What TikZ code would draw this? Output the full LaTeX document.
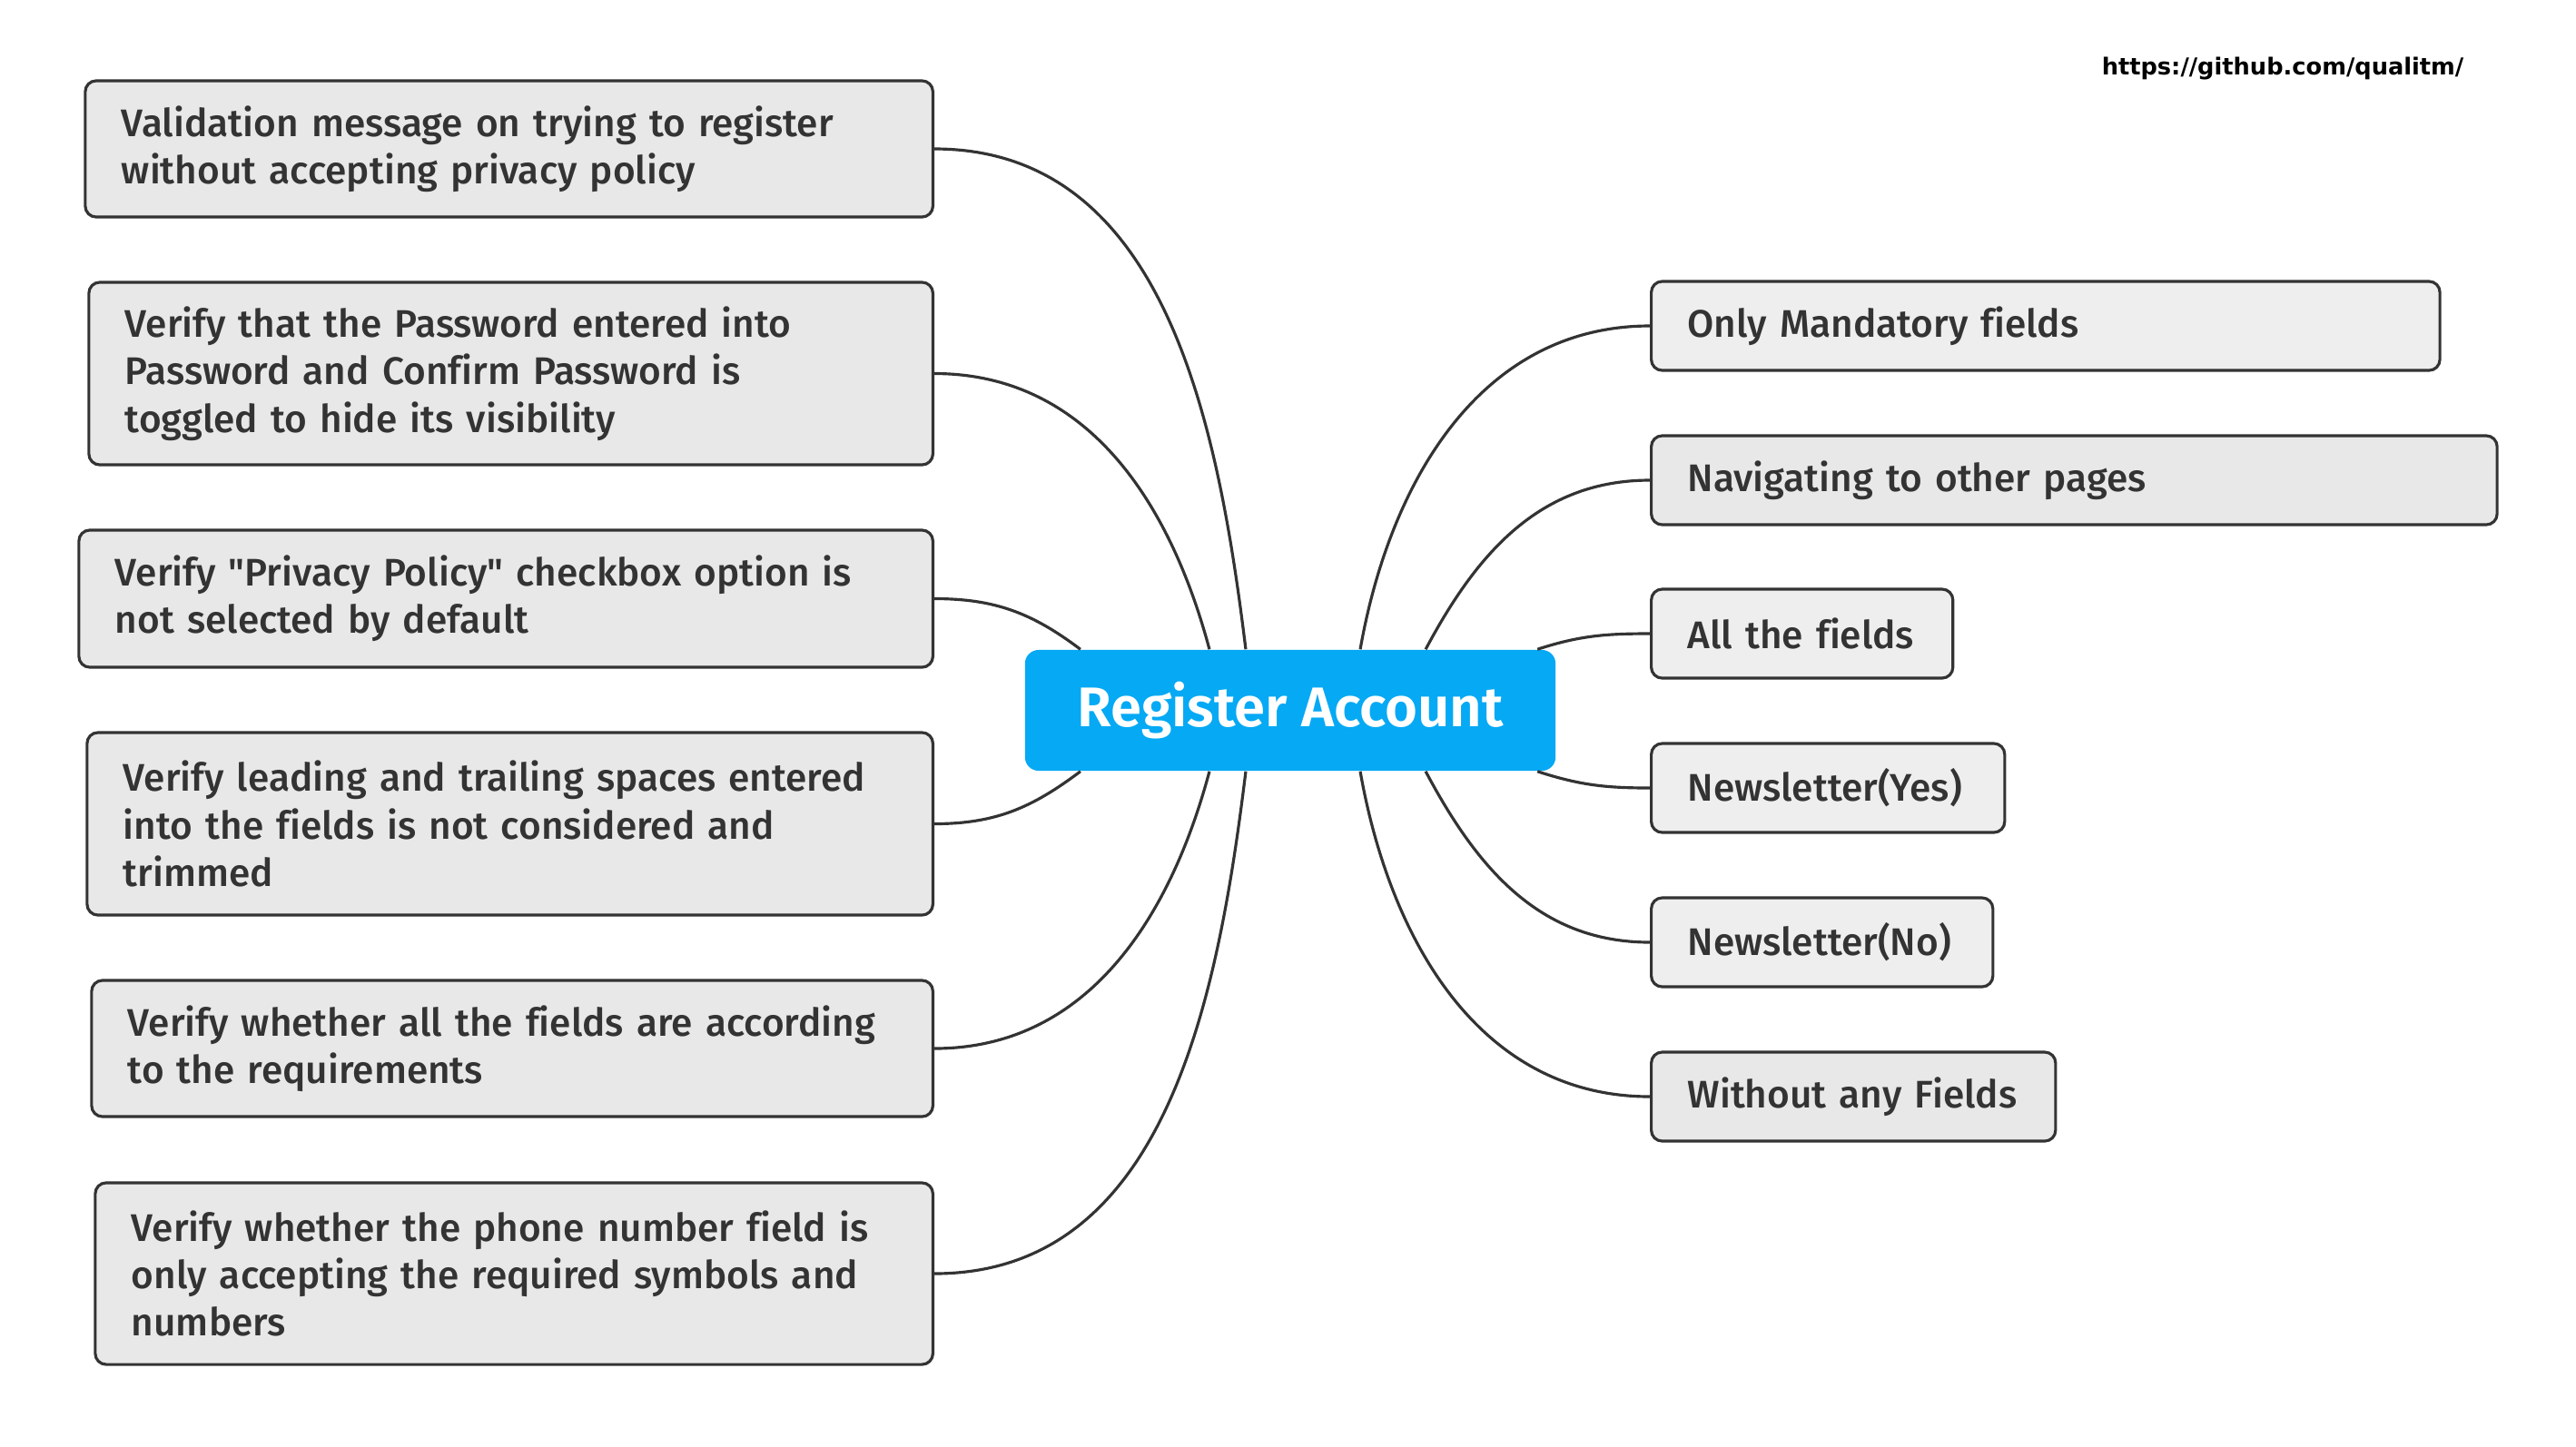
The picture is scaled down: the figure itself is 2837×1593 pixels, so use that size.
\documentclass[tikz,border=0pt]{standalone}
\usepackage{fontspec}
\IfFontExistsTF{Fira Sans Medium}{\setmainfont{Fira Sans Medium}[Ligatures=NoCommon]}{\setmainfont{Fira Sans}[Ligatures=NoCommon]}
\IfFontExistsTF{Fira Sans SemiBold}{\newfontfamily\titlefont{Fira Sans SemiBold}}{\newfontfamily\titlefont{Fira Sans Bold}}
\newfontfamily\urlfont{DejaVu Sans Bold}
\usetikzlibrary{positioning}
\hyphenpenalty=10000\relax

\definecolor{linegray}{RGB}{51,51,51}
\definecolor{boxgray}{RGB}{232,232,232}
\definecolor{boxlight}{RGB}{238,238,238}
\definecolor{rootblue}{RGB}{6,169,244}

\begin{document}
\begin{tikzpicture}[
    x=0.01cm, y=0.01cm,
    topic/.style={draw=linegray, fill=boxgray, line width=0.9pt, rounded corners=0.12cm, text=linegray, align=left, inner xsep=0.4cm, inner ysep=0pt, font=\fontsize{12.05}{14.9}\selectfont},
    lbox/.style={topic, anchor=east, text width=#1},
    rbox/.style={topic, anchor=west, minimum height=0.98cm, text width=#1},
    root/.style={fill=rootblue, rounded corners=0.15cm, minimum width=5.84cm, minimum height=1.33cm, inner sep=0pt, text=white, font=\titlefont\fontsize{17.5}{20}\selectfont},
    link/.style={draw=linegray, line width=0.9pt}
]
    \useasboundingbox (0,0) rectangle (2837,-1593);

    % Root topic
    \node[root] (ra) at (1421,-782.5) {Register Account};

    % Left topics
    \node[lbox=8.53cm, minimum height=1.5cm] (valmsg) at (1029,-164) {Validation message on trying to register\\without accepting privacy policy};
    \node[lbox=8.49cm, minimum height=2.01cm] (pwhide) at (1029,-411.5) {Verify that the Password entered into\\Password and Confirm Password is\\toggled to hide its visibility};
    \node[lbox=8.60cm, minimum height=1.51cm] (privacy) at (1029,-659.5) {Verify \textquotedbl Privacy Policy\textquotedbl{} checkbox option is\\not selected by default};
    \node[lbox=8.51cm, minimum height=2.01cm] (spaces) at (1029,-907.5) {Verify leading and trailing spaces entered\\into the fields is not considered and\\trimmed};
    \node[lbox=8.46cm, minimum height=1.5cm] (require) at (1029,-1155) {Verify whether all the fields are according\\to the requirements};
    \node[lbox=8.42cm, minimum height=2.0cm] (phone) at (1029,-1403) {Verify whether the phone number field is\\only accepting the required symbols and\\numbers};

    % Right topics
    \node[rbox=7.88cm, fill=boxlight] (mand) at (1817,-359) {Only Mandatory fields};
    \node[rbox=8.51cm] (navig) at (1817,-529) {Navigating to other pages};
    \node[rbox=2.52cm, fill=boxlight] (allf) at (1817,-698) {All the fields};
    \node[rbox=3.09cm, fill=boxlight] (newsyes) at (1817,-868) {Newsletter(Yes)};
    \node[rbox=2.96cm, fill=boxlight] (newsno) at (1817,-1038) {Newsletter(No)};
    \node[rbox=3.65cm] (nofield) at (1817,-1208) {Without any Fields};

    % Links to the left
    \draw[link] (valmsg.east) to[out=0, in=97] ([xshift=-0.49cm]ra.north);
    \draw[link] (pwhide.east) to[out=0, in=105] ([xshift=-0.89cm]ra.north);
    \draw[link] (privacy.east) to[out=0, in=143] ([xshift=-2.31cm]ra.north);
    \draw[link] (spaces.east) to[out=0, in=217] ([xshift=-2.31cm]ra.south);
    \draw[link] (require.east) to[out=0, in=255] ([xshift=-0.89cm]ra.south);
    \draw[link] (phone.east) to[out=0, in=263] ([xshift=-0.49cm]ra.south);

    % Links to the right
    \draw[link] (mand.west) to[out=180, in=80] ([xshift=0.77cm]ra.north);
    \draw[link] (navig.west) to[out=180, in=62] ([xshift=1.49cm]ra.north);
    \draw[link] (allf.west) to[out=180, in=18] ([xshift=2.72cm]ra.north);
    \draw[link] (newsyes.west) to[out=180, in=-18] ([xshift=2.72cm]ra.south);
    \draw[link] (newsno.west) to[out=180, in=-62] ([xshift=1.49cm]ra.south);
    \draw[link] (nofield.west) to[out=180, in=-80] ([xshift=0.77cm]ra.south);

    % Source
    \node[anchor=east, inner sep=0pt, font=\urlfont\fontsize{7.3}{9}\selectfont] (src) at (2714,-76) {https://github.com/qualitm/};
\end{tikzpicture}
\end{document}
